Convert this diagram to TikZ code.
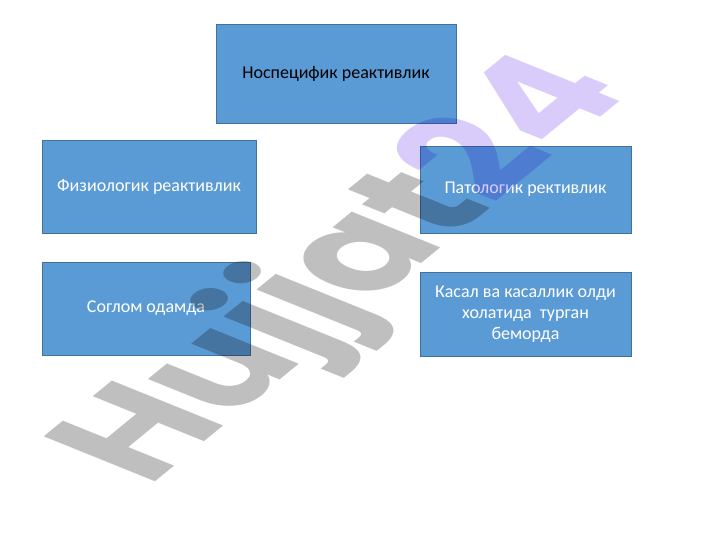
\documentclass[tikz,border=0pt]{standalone}
\usepackage{fontspec}
\setmainfont{Carlito}
\newfontfamily\wmfont{Poppins}
\definecolor{boxfill}{HTML}{5B9BD5}
\definecolor{boxline}{HTML}{41719C}
\definecolor{wmgray}{HTML}{BFBFBF}
\definecolor{wmpurple}{HTML}{DACCFA}
\begin{document}
\begin{tikzpicture}[x=1pt,y=1pt,
  box/.style={draw=boxline, line width=0.8pt, fill=boxfill, inner sep=2pt,
    align=center, font=\fontsize{18}{21}\selectfont, text=white}]
\useasboundingbox (0,0) rectangle (720,540);
\fill[white] (0,0) rectangle (720,540);
\node[box, minimum width=240, minimum height=99, text=black] (nosp) at (336,466.5) {Носпецифик реактивлик};
\node[box, minimum width=214, minimum height=93] (fiz) at (149,353.5) {\raisebox{-3pt}{Физиологик реактивлик}};
\node[box, minimum width=211, minimum height=87] (pat) at (525.5,350.5) {Патологик рективлик};
\node[box, minimum width=208, minimum height=93] (sog) at (146,231.5) {\raisebox{-4pt}{Соглом одамда}};
\node[box, minimum width=211, minimum height=84] (kas) at (525.5,226) {Касал ва касаллик олди\\холатида\ \ турган\\беморда};
\begin{scope}[blend mode=multiply, cm={1.122,0.918,-1.586,0.641,(148,52)}]
\node[transform shape, anchor=base west, inner sep=0pt,
  font=\wmfont\bfseries\fontsize{100}{100}\selectfont] (wm) at (0,0)
  {\textcolor{wmgray}{Hujjat}\textcolor{wmpurple}{24}};
\end{scope}
\end{tikzpicture}
\end{document}
